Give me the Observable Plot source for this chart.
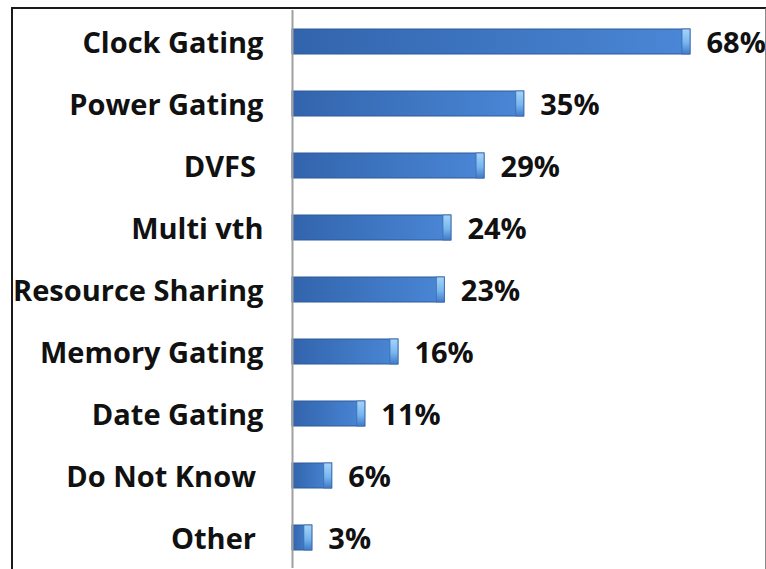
<!DOCTYPE html>
<html>
<head>
<meta charset="utf-8">
<script src="https://cdn.jsdelivr.net/npm/d3@7"></script>
<script src="https://cdn.jsdelivr.net/npm/@observablehq/plot@0.6"></script>
<style>
  html, body { margin: 0; padding: 0; background: #fff; }
  #wrap { position: relative; width: 766px; height: 569px; overflow: hidden; }
  #frame { position: absolute; left: 11px; top: 7px; width: 752px; height: 600px;
           border-left: 2px solid #1a1a1a; border-top: 2px solid #1a1a1a; border-right: 2px solid #8a8a8a;
           pointer-events: none; }
</style>
</head>
<body>
<div id="wrap"><div id="frame"></div></div>
<script>
const categories = ["Clock Gating", "Power Gating", "DVFS ", "Multi vth", "Resource Sharing", "Memory Gating", "Date Gating", "Do Not Know ", "Other "];
const values = [68, 35, 29, 24, 23, 16, 11, 6, 3];
const valueLabels = ["68%", "35%", "29%", "24%", "23%", "16%", "11%", "6%", "3%"];

const data = categories.map((c, i) => ({category: c, value: values[i], label: valueLabels[i]}));

const chart = Plot.plot({
  width: 766,
  height: 569,
  marginLeft: 292,
  marginRight: 0,
  marginTop: 10,
  marginBottom: 1,
  style: {fontFamily: "'Open Sans', sans-serif", background: "transparent", color: "#111"},
  x: {domain: [0, 60.1], range: [292, 690], clamp: true, axis: null},
  y: {domain: categories, paddingInner: 0.6, paddingOuter: 0.3, label: null},
  marks: [
    Plot.axisY({tickSize: 0, tickPadding: 29, fontSize: 29, fontWeight: "bold", fill: "#111", dy: 2}),
    Plot.barX(data, {x1: 0, x2: "value", y: "category", fill: "url(#barBody)", stroke: "#2c5a9c", strokeWidth: 1}),
    Plot.barX(data, {x1: "value", x2: "value", y: "category", insetLeft: -8, fill: "url(#barCap)", stroke: "#3a6cb0", strokeWidth: 0.8}),
    Plot.ruleX([0], {stroke: "#a0a0a0", strokeWidth: 2}),
    Plot.text(data, {x: "value", y: "category", text: "label", textAnchor: "start", dx: 16, dy: 2, fontSize: 29, fontWeight: "bold", fill: "#111"})
  ]
});

const defs = d3.select(chart).insert("defs", ":first-child");
const body = defs.append("linearGradient").attr("id", "barBody").attr("x1", 0).attr("y1", 0).attr("x2", 1).attr("y2", 0);
body.append("stop").attr("offset", "0%").attr("stop-color", "#3264ac");
body.append("stop").attr("offset", "100%").attr("stop-color", "#4a87d6");
const cap = defs.append("linearGradient").attr("id", "barCap").attr("x1", 0).attr("y1", 0).attr("x2", 0).attr("y2", 1);
cap.append("stop").attr("offset", "0%").attr("stop-color", "#a6d4f8");
cap.append("stop").attr("offset", "55%").attr("stop-color", "#78b6ee");
cap.append("stop").attr("offset", "100%").attr("stop-color", "#3f7ac8");

document.getElementById("wrap").prepend(chart);
</script>
</body>
</html>
